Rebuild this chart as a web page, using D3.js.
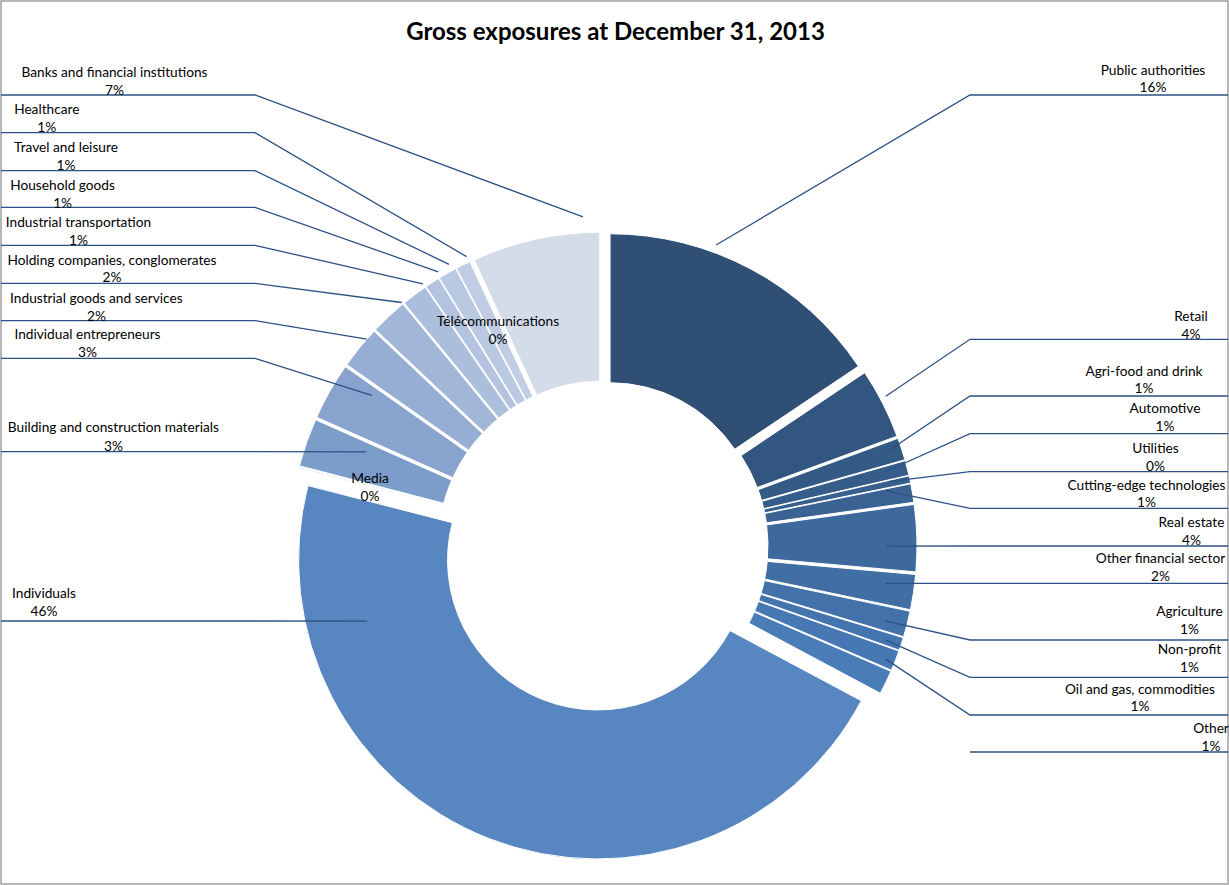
<!DOCTYPE html>
<html><head><meta charset="utf-8">
<script src="https://cdn.jsdelivr.net/npm/d3@7"></script>
<style>
body{margin:0;background:#fff;}
text{font-family:Lato,"Liberation Sans",sans-serif;fill:#000;}
</style></head>
<body>
<svg id="chart" width="1229" height="885"></svg>
<script>
// ---------------- DATA ----------------
const title = "Gross exposures at December 31, 2013";
const categories = [
  "Public authorities","Retail","Agri-food and drink","Automotive","Utilities",
  "Cutting-edge technologies","Real estate","Other financial sector","Agriculture",
  "Non-profit","Oil and gas, commodities","Other","Individuals","Media",
  "Building and construction materials","Individual entrepreneurs",
  "Industrial goods and services","Holding companies, conglomerates",
  "Industrial transportation","Household goods","Travel and leisure","Healthcare",
  "Télécommunications","Banks and financial institutions"
];
const values = [
  15.6, 3.8, 1.2, 0.8, 0.4,
  1.0, 3.6, 1.9, 1.4,
  0.7, 1.1, 1.3, 46.2, 0.05,
  2.6, 3.1,
  2.3, 2.0,
  1.4, 0.8, 1.0, 0.8,
  0.05, 6.9
];
const colors = [
  "#2F4F75","#32567F","#345A86","#365D8A","#37608E",
  "#3A6393","#3E699D","#416EA3","#4372AA",
  "#4575AF","#4878B3","#4A7CB8","#5786C0","#6E93C7",
  "#7C9CC9","#88A4CE",
  "#96AED4","#A2B6D8",
  "#ABBEDC","#B4C4E0","#BAC9E2","#C0CDE4",
  "#C8D3E7","#D4DCEA"
];

// ---------------- LAYOUT (label placement) ----------------
// side, text centre x, name centre y, pct centre y, line y, leader fraction within slice, leader radius
const labelLayout = [
  {i:0,  side:"R", tx:1153, ty:69.3,  py:86.7,  ly:95,    f:0.36, rr:306.7},
  {i:1,  side:"R", tx:1191, ty:315.7, py:333.3, ly:339.3, f:0.43, rr:305},
  {i:2,  side:"R", tx:1144, ty:370,   py:387.3, ly:396,   f:0.43, rr:283},
  {i:3,  side:"R", tx:1165, ty:407.3, py:425,   ly:433.7, f:0.38, rr:277},
  {i:4,  side:"R", tx:1155.5,ty:447.3,py:465,   ly:471.7, f:0.18, rr:278},
  {i:5,  side:"R", tx:1146.5,ty:484.3,py:501.7, ly:508.3, f:0.10, rr:273},
  {i:6,  side:"R", tx:1191.5,ty:521.7,py:539.3, ly:546,   f:0.62, rr:268},
  {i:7,  side:"R", tx:1160.5,ty:557.3,py:575,   ly:583.3, f:0.36, rr:270},
  {i:8,  side:"R", tx:1189.5,ty:610,  py:628.3, ly:640,   f:0.60, rr:277},
  {i:9,  side:"R", tx:1189.5,ty:648.3,py:666,   ly:677.3, f:0.59, rr:283},
  {i:10, side:"R", tx:1140,  ty:688.3,py:705.7, ly:715,   f:0.60, rr:289},
  {i:11, side:"RH", tx:1211, ty:727,  py:745,   ly:752},
  {i:12, side:"L", tx:44,    ty:592,  py:610,   ly:621,   f:0.824,rr:238.5},
  {i:13, side:"N", tx:370,   ty:477.3,py:495},
  {i:14, side:"L", tx:113.4, ty:426.7,py:445,   ly:451.7, f:0.77, rr:240},
  {i:15, side:"L", tx:87.5,  ty:333.3,py:351,   ly:358.3, f:0.84, rr:261},
  {i:16, side:"L", tx:96.4,  ty:297.7,py:315.7, ly:320.7, f:0.75, rr:299},
  {i:17, side:"L", tx:112,   ty:259,  py:276.7, ly:283.3, f:1.0,  rr:301},
  {i:18, side:"L", tx:78.5,  ty:221.3,py:239,   ly:245.3, f:1.0,  rr:303},
  {i:19, side:"L", tx:62.6,  ty:184.7,py:202.3, ly:207.3, f:1.2,  rr:305},
  {i:20, side:"L", tx:66,    ty:146.3,py:164,   ly:170.7, f:0.8,  rr:306},
  {i:21, side:"L", tx:46.8,  ty:108.7,py:126.3, ly:132.7, f:0.94, rr:305},
  {i:22, side:"N", tx:498,   ty:320,  py:338.3},
  {i:23, side:"L", tx:114.5, ty:71,   py:89,    ly:95,    f:0.877,rr:315}
];

// ---------------- DRAW ----------------
const W = 1229, H = 885;
const svg = d3.select("#chart");
const cx = 603, cy = 546, outerR = 299, innerR = 150, explode = 15;
const leftElbow = 255, rightElbow = 970;
const labelFont = "13.7px";

svg.append("rect").attr("x",1).attr("y",1).attr("width",W-2).attr("height",H-2)
  .attr("fill","#fff").attr("stroke","#878787").attr("stroke-width",1.2);

svg.append("text").attr("x",615.5).attr("y",30).attr("text-anchor","middle")
  .attr("dominant-baseline","central").style("font-weight","bold").style("font-size","24px")
  .text(title);

const total = d3.sum(values);
const pie = d3.pie().sort(null).value(d=>d)(values);
const arc = d3.arc().innerRadius(innerR).outerRadius(outerR);

function sliceCenter(p){
  const m = (p.startAngle + p.endAngle)/2;
  return [cx + explode*Math.sin(m), cy - explode*Math.cos(m)];
}

const g = svg.append("g");
g.selectAll("path.slice").data(pie).enter().append("path")
  .attr("class","slice")
  .attr("transform", p => { const c = sliceCenter(p); return `translate(${c[0]},${c[1]})`; })
  .attr("d", arc)
  .attr("fill", (p,i) => colors[i])
  .attr("stroke","#fff").attr("stroke-width",1);

// leader lines
const lg = svg.append("g");
labelLayout.forEach(L => {
  if (L.side === "N") return;
  let pts;
  if (L.side === "RH") {
    pts = [[W-1, L.ly],[rightElbow, L.ly]];
  } else {
    const p = pie[L.i];
    const c = sliceCenter(p);
    const a = p.startAngle + L.f*(p.endAngle - p.startAngle);
    const ex = c[0] + L.rr*Math.sin(a), ey = c[1] - L.rr*Math.cos(a);
    if (L.side === "L") pts = [[1, L.ly],[leftElbow, L.ly],[ex, ey]];
    else pts = [[W-1, L.ly],[rightElbow, L.ly],[ex, ey]];
  }
  lg.append("path").attr("d", d3.line()(pts))
    .attr("fill","none").attr("stroke","#2D5184").attr("stroke-width",1.3);
});

// labels
const tg = svg.append("g");
labelLayout.forEach(L => {
  const pct = Math.round(values[L.i]/total*100) + "%";
  tg.append("text").attr("x",L.tx).attr("y",L.ty).attr("text-anchor","middle")
    .attr("dominant-baseline","central").style("font-size",labelFont).text(categories[L.i]);
  tg.append("text").attr("x",L.tx).attr("y",L.py).attr("text-anchor","middle")
    .attr("dominant-baseline","central").style("font-size",labelFont).text(pct);
});
</script>
</body></html>
